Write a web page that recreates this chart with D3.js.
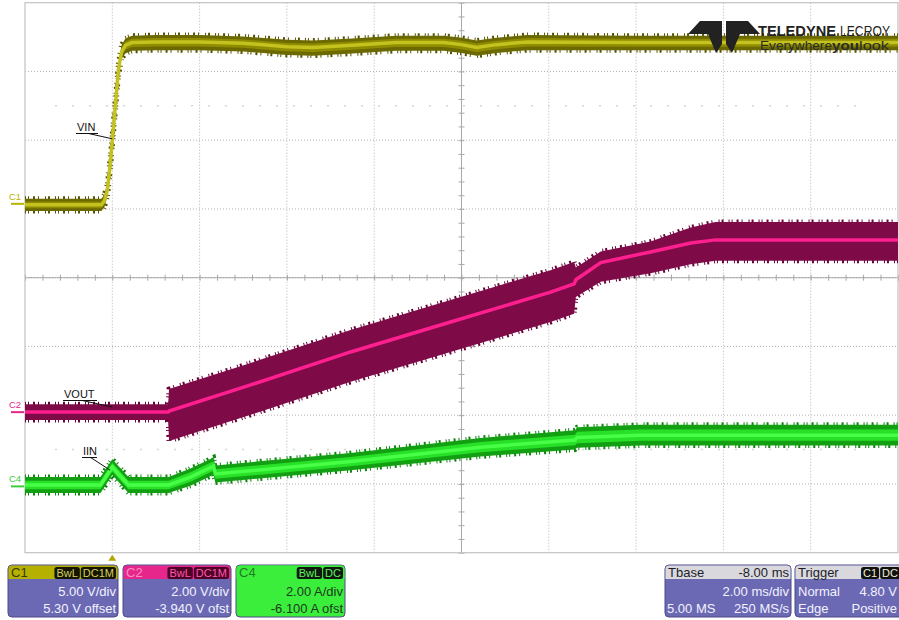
<!DOCTYPE html>
<html><head><meta charset="utf-8">
<script src="https://cdn.jsdelivr.net/npm/d3@7"></script>
<style>html,body{margin:0;padding:0;background:#fff;overflow:hidden}svg{display:block;font-family:"Liberation Sans",Arial,sans-serif}</style>
</head><body><svg id="c" width="899" height="620"></svg>
<script>
// ---------------- data ----------------
const channels = ["C1", "C2", "C4"];
const traceNames = ["VIN", "VOUT", "IIN"];
const unitPerDiv = [5.00, 2.00, 2.00];      // V/div, V/div, A/div
const offsets = [5.30, -3.940, -6.100];     // V, V, A
const timeWindow = [-2, 18];                // ms  (Tbase -8.00 ms, 2.00 ms/div)
const timePerDiv = 2;

// VIN (C1)
const vinTime  = [-2, -0.25, -0.18, -0.11, -0.04, 0.0, 0.08, 0.14, 0.21, 0.30, 0.45, 1.0, 2.0, 3.0, 4.0, 4.6, 5.5, 6.5, 7.6, 8.0, 8.35, 8.8, 9.5, 12, 18];
const vinValue = [0.0, 0.0, 0.3, 1.1, 3.2, 4.7, 7.6, 9.8, 11.1, 11.6, 11.8, 11.85, 11.85, 11.75, 11.5, 11.45, 11.6, 11.8, 11.8, 11.65, 11.45, 11.65, 11.85, 11.8, 11.8];
const vinNoiseUp   = [0.45, 0.45, 0.45, 0.45, 0.45, 0.45, 0.45, 0.45, 0.5, 0.5, 0.5, 0.5, 0.5, 0.5, 0.5, 0.5, 0.5, 0.5, 0.5, 0.5, 0.5, 0.5, 0.5, 0.5, 0.5];
const vinNoiseDown = [0.45, 0.45, 0.45, 0.45, 0.45, 0.45, 0.45, 0.45, 0.5, 0.6, 0.6, 0.6, 0.6, 0.6, 0.6, 0.6, 0.6, 0.6, 0.6, 0.6, 0.6, 0.6, 0.6, 0.55, 0.55];

// VOUT (C2)
const voutTime  = [-2, 1.28, 1.30, 3.17, 5.46, 7.75, 10.04, 10.58, 10.62, 11.19, 12.33, 13.25, 13.82, 18];
const voutValue = [0.03, 0.03, 0.06, 0.82, 1.78, 2.65, 3.52, 3.76, 3.88, 4.38, 4.69, 4.95, 5.04, 5.04];
const voutNoiseUp   = [0.23, 0.23, 0.64, 0.64, 0.64, 0.64, 0.64, 0.64, 0.36, 0.32, 0.30, 0.45, 0.52, 0.52];
const voutNoiseDown = [0.23, 0.23, 0.87, 0.87, 0.87, 0.87, 0.87, 0.87, 0.50, 0.56, 0.62, 0.62, 0.61, 0.61];

// IIN (C4)
const iinTime  = [-2, -0.27, 0.0, 0.37, 1.29, 1.79, 2.32, 2.36, 5.46, 8.44, 10.60, 10.65, 12.1, 18];
const iinValue = [0.07, 0.07, 0.59, 0.07, 0.07, 0.30, 0.62, 0.39, 0.75, 1.17, 1.38, 1.45, 1.52, 1.52];
const iinNoise = [0.23, 0.23, 0.23, 0.23, 0.23, 0.25, 0.25, 0.25, 0.25, 0.27, 0.28, 0.3, 0.3, 0.3];

// info boxes
const chanScaleText  = ["5.00 V/div", "2.00 V/div", "2.00 A/div"];
const chanOffsetText = ["5.30 V offset", "-3.940 V ofst", "-6.100 A ofst"];
const chanBadges = [["BwL", "DC1M"], ["BwL", "DC1M"], ["BwL", "DC"]];
const tbaseText = ["Tbase", "-8.00 ms", "2.00 ms/div", "5.00 MS", "250 MS/s"];
const triggerText = ["Trigger", "Normal", "4.80 V", "Edge", "Positive"];
const triggerBadges = ["C1", "DC"];
const triggerLevel = 4.80, triggerTime = 0;
const logoWords = ["TELEDYNE", "LECROY", "Everywhere", "you", "look"];

// ---------------- layout / styles ----------------
const P = {l: 25, r: 898, t: 2.7, b: 552.7};
const colors = [
  {outer: "#6b6900", inner: "#8f8c00", center: "#c4c21e", edge: "#555300", label: "#b9b300"},
  {outer: "#7e0b47", inner: "#7e0b47", center: "#ff1f8e", edge: "#6a0038", label: "#e0288a"},
  {outer: "#12a012", inner: "#28e028", center: "#46ff46", edge: "#0b850b", label: "#3ccc3c"}
];

const svg = d3.select("#c");
const x = d3.scaleLinear().domain(timeWindow).range([P.l, P.r]);
const yDiv = d3.scaleLinear().domain([-4, 4]).range([P.b, P.t]);
const yCh = i => d3.scaleLinear()
  .domain([-4 * unitPerDiv[i] - offsets[i], 4 * unitPerDiv[i] - offsets[i]])
  .range([P.b, P.t]);

// ---------------- grid ----------------
const g = svg.append("g");
const vTicks = d3.range(timeWindow[0], timeWindow[1] + 0.001, timePerDiv);
g.selectAll("line.vg").data(vTicks.slice(1, -1)).join("line")
  .attr("x1", d => x(d)).attr("x2", d => x(d)).attr("y1", P.t).attr("y2", P.b)
  .attr("stroke", "#b4b4b4").attr("stroke-width", 1).attr("stroke-dasharray", "1,2");
g.selectAll("line.hg").data(d3.range(-3, 4)).join("line")
  .attr("x1", P.l).attr("x2", P.r).attr("y1", d => yDiv(d)).attr("y2", d => yDiv(d))
  .attr("stroke", "#b4b4b4").attr("stroke-width", 1).attr("stroke-dasharray", "1,2");
// faint half-division dotted rows
[2.5, -2.5].forEach(v => {
  g.append("line").attr("x1", P.l + 30).attr("x2", P.r - 30).attr("y1", yDiv(v)).attr("y2", yDiv(v))
    .attr("stroke", "#d6d6d6").attr("stroke-width", 1.5).attr("stroke-dasharray", "2,15");
});
// center cross, solid with minor ticks
const xc = x((timeWindow[0] + timeWindow[1]) / 2), yc = yDiv(0);
g.append("line").attr("x1", P.l).attr("x2", P.r).attr("y1", yc).attr("y2", yc).attr("stroke", "#a8a8a8");
g.append("line").attr("x1", xc).attr("x2", xc).attr("y1", P.t).attr("y2", P.b).attr("stroke", "#a8a8a8");
const minorT = d3.range(timeWindow[0], timeWindow[1] + 0.001, timePerDiv / 5);
[d3.axisBottom(x), d3.axisTop(x)].forEach(a => {
  const ag = g.append("g").attr("transform", `translate(0,${yc})`).call(a.tickValues(minorT).tickSize(3).tickFormat(""));
  ag.select(".domain").remove();
  ag.selectAll("line").attr("stroke", "#a8a8a8");
});
const minorV = d3.range(-4, 4.001, 0.2);
[d3.axisLeft(yDiv), d3.axisRight(yDiv)].forEach(a => {
  const ag = g.append("g").attr("transform", `translate(${xc},0)`).call(a.tickValues(minorV).tickSize(3).tickFormat(""));
  ag.select(".domain").remove();
  ag.selectAll("line").attr("stroke", "#a8a8a8");
});
// frame
g.append("rect").attr("x", P.l).attr("y", P.t).attr("width", P.r - P.l).attr("height", P.b - P.t)
  .attr("fill", "none").attr("stroke", "#c2c2c2").attr("stroke-width", 1.2);

// ---------------- traces ----------------
svg.append("clipPath").attr("id", "clip").append("rect")
  .attr("x", P.l).attr("y", P.t).attr("width", P.r - P.l).attr("height", P.b - P.t);
const tr = svg.append("g").attr("clip-path", "url(#clip)");

function drawTrace(i, T, V, up, dn) {
  const y = yCh(i), c = colors[i];
  const rows = T.map((t, k) => ({t, v: V[k], u: up[k], d: dn[k]}));
  const area = (fu, fd) => d3.area().x(d => x(d.t)).y0(d => y(d.v - fd * d.d)).y1(d => y(d.v + fu * d.u));
  // jagged noise edges
  [1, -1].forEach(s => {
    tr.append("path").datum(rows)
      .attr("d", d3.line().x(d => x(d.t)).y(d => y(d.v + (s > 0 ? d.u : -d.d))))
      .attr("fill", "none").attr("stroke", c.edge).attr("stroke-width", 5)
      .attr("stroke-dasharray", "1,2,1,4,2,3,1,6,1,2,2,5");
  });
  tr.append("path").datum(rows).attr("d", area(1, 1)).attr("fill", c.outer);
  tr.append("path").datum(rows).attr("d", area(0.55, 0.55)).attr("fill", c.inner);
  tr.append("path").datum(rows).attr("d", d3.line().x(d => x(d.t)).y(d => y(d.v)))
    .attr("fill", "none").attr("stroke", c.center).attr("stroke-width", 3.5);
}
drawTrace(0, vinTime, vinValue, vinNoiseUp, vinNoiseDown);
drawTrace(1, voutTime, voutValue, voutNoiseUp, voutNoiseDown);
drawTrace(2, iinTime, iinValue, iinNoise, iinNoise);

// ---------------- channel ground markers ----------------
channels.forEach((ch, i) => {
  const y0 = yCh(i)(0);
  svg.append("text").attr("x", 9).attr("y", y0 - 5).attr("font-size", 9.5)
    .attr("fill", colors[i].label).text(ch);
  svg.append("line").attr("x1", 11).attr("x2", 24).attr("y1", y0 - 1).attr("y2", y0 - 1)
    .attr("stroke", colors[i].label).attr("stroke-width", 2);
});

// ---------------- trace labels with leaders ----------------
const labelSpec = [
  {i: 0, tx: 77, ty: 131, w: 21, to: [triggerTime, triggerLevel]},
  {i: 1, tx: 64, ty: 398, w: 33, to: [0, 0.18]},
  {i: 2, tx: 83, ty: 455, w: 14, to: [-0.05, 0.5]}
];
labelSpec.forEach(L => {
  const y = yCh(L.i);
  svg.append("text").attr("x", L.tx).attr("y", L.ty).attr("font-size", 11).attr("fill", "#111").text(traceNames[L.i]);
  svg.append("line").attr("x1", L.tx - 1).attr("x2", L.tx + L.w).attr("y1", L.ty + 2.5).attr("y2", L.ty + 2.5)
    .attr("stroke", "#111").attr("stroke-width", 1);
  svg.append("line").attr("x1", L.tx + L.w * 0.55).attr("y1", L.ty + 2.5)
    .attr("x2", x(L.to[0])).attr("y2", y(L.to[1])).attr("stroke", "#111").attr("stroke-width", 1);
});

// trigger time marker
const xt = x(triggerTime);
svg.append("path").attr("d", `M${xt - 4},${P.b + 8}L${xt},${P.b + 2}L${xt + 4},${P.b + 8}Z`).attr("fill", "#b3a600");

// ---------------- logo ----------------
const logo = svg.append("g");
logo.append("path").attr("d", "M688,34L700,21L722,21L722,44L716,53L708,34Z").attr("fill", "#222");
logo.append("path").attr("d", "M760,34L748,21L726,21L726,44L732,53L740,34Z").attr("fill", "#222");
logo.append("text").attr("x", 758).attr("y", 36).attr("font-size", 15).attr("font-weight", "bold").attr("fill", "#222")
  .attr("textLength", 78).attr("lengthAdjust", "spacingAndGlyphs").text(logoWords[0]);
logo.append("text").attr("x", 840).attr("y", 36).attr("font-size", 15).attr("fill", "#222")
  .attr("textLength", 50).attr("lengthAdjust", "spacingAndGlyphs").text(logoWords[1]);
logo.append("text").attr("x", 760).attr("y", 50).attr("font-size", 13).attr("fill", "#2b2b2b")
  .attr("textLength", 72).attr("lengthAdjust", "spacingAndGlyphs").text(logoWords[2]);
logo.append("text").attr("x", 832).attr("y", 50).attr("font-size", 13).attr("font-weight", "bold").attr("fill", "#2b2b2b")
  .attr("textLength", 27).attr("lengthAdjust", "spacingAndGlyphs").text(logoWords[3]);
logo.append("text").attr("x", 859).attr("y", 50).attr("font-size", 13).attr("fill", "#2b2b2b")
  .attr("textLength", 30).attr("lengthAdjust", "spacingAndGlyphs").text(logoWords[4]);

// ---------------- info boxes ----------------
const purple = "#6b69b3", boxStroke = "#4c4a86";
const boxY = 565, boxH = 52, headH = 14;
const chanBox = [
  {x: 8, w: 110, head: "#b6b000", headText: "#3a3800", badgeBg: "#151500", badgeText: "#d4d060", body: purple, bodyText: "#f2f2ff"},
  {x: 123, w: 108, head: "#e6268a", headText: "#ff8ec6", badgeBg: "#4e0028", badgeText: "#ff5aa8", body: purple, bodyText: "#f2f2ff"},
  {x: 236, w: 109, head: "#3cee3c", headText: "#227a22", badgeBg: "#101810", badgeText: "#5ef05e", body: "#3cee3c", bodyText: "#1d3a1d"}
];
const ib = svg.append("g").attr("font-size", 13);
function roundedBox(x0, w, head, body) {
  const gg = ib.append("g");
  gg.append("rect").attr("x", x0).attr("y", boxY).attr("width", w).attr("height", boxH).attr("rx", 4)
    .attr("fill", body).attr("stroke", boxStroke).attr("stroke-width", 1);
  gg.append("path").attr("d", `M${x0 + 0.5},${boxY + headH}V${boxY + 4}Q${x0 + 0.5},${boxY + 0.5} ${x0 + 4},${boxY + 0.5}H${x0 + w - 4}Q${x0 + w - 0.5},${boxY + 0.5} ${x0 + w - 0.5},${boxY + 4}V${boxY + headH}Z`)
    .attr("fill", head);
  return gg;
}
function badge(gg, xr, label, bg, fg) {
  const t = gg.append("text").attr("x", 0).attr("y", boxY + 11.5).attr("font-size", 11).attr("fill", fg).text(label);
  const w = t.node().getComputedTextLength() + 4;
  gg.insert("rect", "text").attr("x", xr - w).attr("y", boxY + 2).attr("width", w).attr("height", 12).attr("rx", 2.5).attr("fill", bg);
  t.attr("x", xr - w + 2);
  return xr - w - 1;
}
channels.forEach((ch, i) => {
  const b = chanBox[i];
  const gg = roundedBox(b.x, b.w, b.head, b.body);
  gg.append("text").attr("x", b.x + 3).attr("y", boxY + 12).attr("fill", b.headText).text(ch);
  let xr = b.x + b.w - 2;
  chanBadges[i].slice().reverse().forEach(lbl => { xr = badge(gg, xr, lbl, b.badgeBg, b.badgeText); });
  gg.append("text").attr("x", b.x + b.w - 2).attr("y", boxY + 31).attr("text-anchor", "end").attr("fill", b.bodyText).text(chanScaleText[i]);
  gg.append("text").attr("x", b.x + b.w - 2).attr("y", boxY + 48).attr("text-anchor", "end").attr("fill", b.bodyText).text(chanOffsetText[i]);
});
// Tbase
{
  const x0 = 665, w = 126;
  const gg = roundedBox(x0, w, "#d9d9dd", purple);
  gg.append("text").attr("x", x0 + 3).attr("y", boxY + 12).attr("fill", "#1d1d2a").text(tbaseText[0]);
  gg.append("text").attr("x", x0 + w - 2).attr("y", boxY + 12).attr("text-anchor", "end").attr("fill", "#1d1d2a").text(tbaseText[1]);
  gg.append("text").attr("x", x0 + w - 2).attr("y", boxY + 31).attr("text-anchor", "end").attr("fill", "#f2f2ff").text(tbaseText[2]);
  gg.append("text").attr("x", x0 + 2).attr("y", boxY + 48).attr("fill", "#f2f2ff").text(tbaseText[3]);
  gg.append("text").attr("x", x0 + w - 2).attr("y", boxY + 48).attr("text-anchor", "end").attr("fill", "#f2f2ff").text(tbaseText[4]);
}
// Trigger
{
  const x0 = 795, w = 112;
  const gg = roundedBox(x0, w, "#d9d9dd", purple);
  gg.append("text").attr("x", x0 + 3).attr("y", boxY + 12).attr("fill", "#1d1d2a").text(triggerText[0]);
  let xr = 900;
  triggerBadges.slice().reverse().forEach(lbl => { xr = badge(gg, xr, lbl, "#111", "#f0f0d0"); });
  gg.append("text").attr("x", x0 + 3).attr("y", boxY + 31).attr("fill", "#f2f2ff").text(triggerText[1]);
  gg.append("text").attr("x", 897).attr("y", boxY + 31).attr("text-anchor", "end").attr("fill", "#f2f2ff").text(triggerText[2]);
  gg.append("text").attr("x", x0 + 3).attr("y", boxY + 48).attr("fill", "#f2f2ff").text(triggerText[3]);
  gg.append("text").attr("x", 897).attr("y", boxY + 48).attr("text-anchor", "end").attr("fill", "#f2f2ff").text(triggerText[4]);
}
</script></body></html>
